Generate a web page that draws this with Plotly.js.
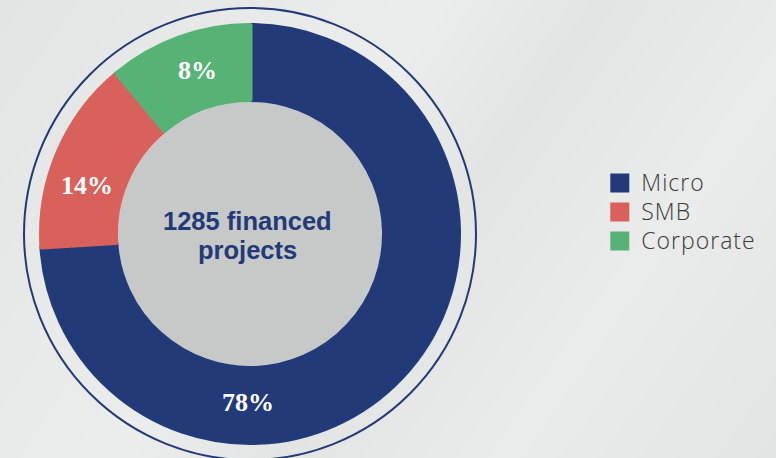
<!DOCTYPE html>
<html>
<head>
<meta charset="utf-8">
<script src="https://cdn.plot.ly/plotly-3.0.1.min.js"></script>
<style>
  html, body { margin: 0; padding: 0; }
  body {
    width: 776px; height: 458px; overflow: hidden;
    background:
      linear-gradient(125deg, rgba(255,255,255,0) 0%, rgba(255,255,255,0.3) 40%, rgba(255,255,255,0) 55%, rgba(255,255,255,0.25) 75%, rgba(255,255,255,0) 100%),
      #e3e5e5;
  }
  #chart { width: 776px; height: 458px; }
  /* enlarge legend swatches and text to match the reference */
  .legendpie { stroke-width: 7px !important; }
  .legendtext { font-size: 23px !important; letter-spacing: 1px; }
</style>
</head>
<body>
<div id="chart"></div>
<script>
// ---- data ----
var categories = ['Micro', 'SMB', 'Corporate'];
// sector sizes as drawn in the reference (share of the full circle, %)
var sectorShares = [74, 15, 11];
// percentages printed on the sectors
var printedPct = ['78%', '14%', '8%'];
var sliceColors = ['#223a78', '#d9615c', '#56b275'];
var centerLines = ['1285 financed', 'projects'];

// ---- geometry (px) ----
var W = 776, H = 458;
var cx = 250, cy = 234;       // donut centre
var rOuter = 211, rInner = 132, rRing = 226;
var sw = 5;                   // slice stroke (same colour as slice)
var rPie = rOuter - sw / 2;

function px2x(x) { return x / W; }
function px2y(y) { return (H - y) / H; }

var pie = {
  type: 'pie',
  labels: categories,
  values: sectorShares,
  sort: false,
  direction: 'clockwise',
  rotation: 0,
  hole: (rInner + sw / 2) / rPie,
  textinfo: 'none',
  hoverinfo: 'label',
  marker: { colors: sliceColors, line: { color: sliceColors, width: sw } },
  domain: {
    x: [px2x(cx - rPie), px2x(cx + rPie)],
    y: [px2y(cy + rPie), px2y(cy - rPie)]
  },
  showlegend: true
};

// label positions for printed percentages (px)
var labelPos = [[248, 402], [87, 185], [197, 70]];
var annotations = printedPct.map(function (t, i) {
  return {
    xref: 'paper', yref: 'paper',
    x: px2x(labelPos[i][0]), y: px2y(labelPos[i][1]),
    text: '<b>' + t + '</b>', showarrow: false,
    xanchor: 'center', yanchor: 'middle',
    font: { family: 'Liberation Serif, DejaVu Serif, serif', size: 26, color: '#ffffff' }
  };
});
var centerY = [221, 250];
centerLines.forEach(function (t, i) {
  annotations.push({
    xref: 'paper', yref: 'paper',
    x: px2x(cx - 2), y: px2y(centerY[i]),
    text: '<b>' + t + '</b>', showarrow: false,
    xanchor: 'center', yanchor: 'middle', align: 'center',
    font: { family: 'Liberation Sans, Arial, sans-serif', size: 25.5, color: '#223a78' }
  });
});

var shapes = [
  { type: 'circle', xref: 'paper', yref: 'paper', layer: 'below',
    x0: px2x(cx - rInner), x1: px2x(cx + rInner),
    y0: px2y(cy + rInner), y1: px2y(cy - rInner),
    fillcolor: '#c7c8c8', line: { width: 0 } },
  { type: 'circle', xref: 'paper', yref: 'paper', layer: 'below',
    x0: px2x(cx - rRing), x1: px2x(cx + rRing),
    y0: px2y(cy + rRing), y1: px2y(cy - rRing),
    fillcolor: 'rgba(0,0,0,0)', line: { color: '#223a78', width: 2 } }
];

var layout = {
  width: W, height: H,
  margin: { l: 0, r: 0, t: 0, b: 0 },
  paper_bgcolor: 'rgba(0,0,0,0)',
  plot_bgcolor: 'rgba(0,0,0,0)',
  showlegend: true,
  legend: {
    x: 0.771, y: px2y(212), xanchor: 'left', yanchor: 'middle',
    bgcolor: 'rgba(0,0,0,0)',
    itemwidth: 33,
    font: { family: 'Open Sans, Roboto, Liberation Sans, sans-serif', size: 20, color: '#3a3a3a', weight: 300 },
    traceorder: 'normal'
  },
  shapes: shapes,
  annotations: annotations
};

Plotly.newPlot('chart', [pie], layout, { displayModeBar: false, staticPlot: true });
</script>
</body>
</html>
